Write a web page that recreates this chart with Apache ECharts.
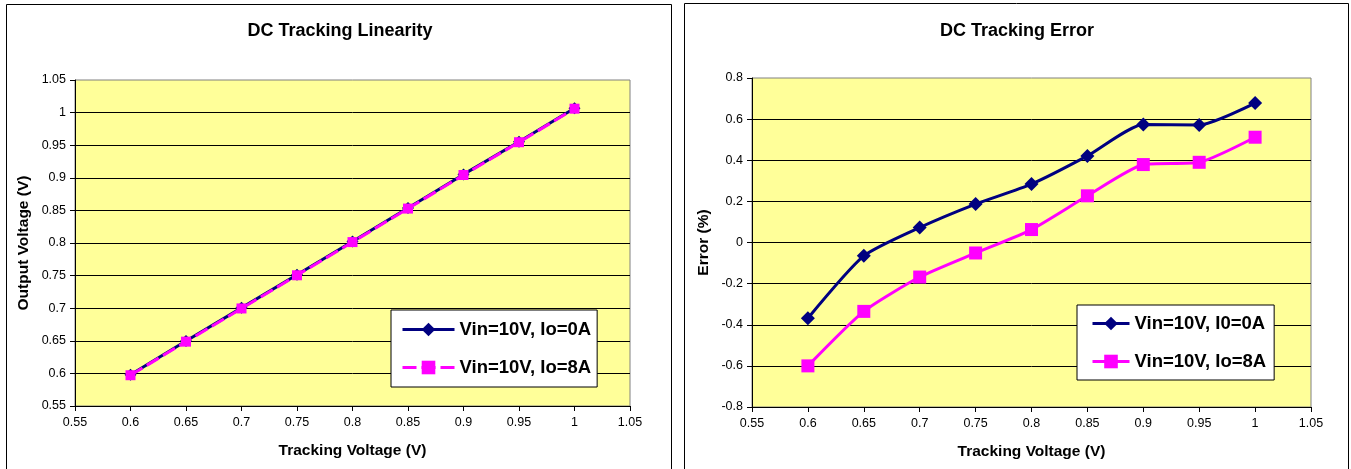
<!DOCTYPE html>
<html>
<head>
<meta charset="utf-8">
<script src="https://cdn.jsdelivr.net/npm/echarts@6/dist/echarts.min.js"></script>
<style>
html,body{margin:0;padding:0;background:#fff;}
#c1,#c2{position:absolute;left:0;top:0;width:1351px;height:469px;}
</style>
</head>
<body>
<div id="c1"></div>
<div id="c2"></div>
<script>
// ---- data ----
const trackingVoltage = [0.6, 0.65, 0.7, 0.75, 0.8, 0.85, 0.9, 0.95, 1.0];
const outIo0 = [0.598, 0.6496, 0.7005, 0.7514, 0.8023, 0.8536, 0.9052, 0.9554, 1.0068];
const outIo8 = [0.5972, 0.6487, 0.6996, 0.7505, 0.8014, 0.8528, 0.9043, 0.9546, 1.0060];
const errI00 = [-0.368, -0.065, 0.073, 0.187, 0.284, 0.421, 0.574, 0.572, 0.678];
const errIo8 = [-0.600, -0.335, -0.168, -0.051, 0.063, 0.227, 0.379, 0.390, 0.512];
const xRange = [0.55, 1.05, 0.05];
const yRangeLin = [0.55, 1.05, 0.05];
const yRangeErr = [-0.8, 0.8, 0.2];
const names = {
  linA: 'Vin=10V, Io=0A', linB: 'Vin=10V, Io=8A',
  errA: 'Vin=10V, I0=0A', errB: 'Vin=10V, Io=8A'
};

const FONT = '"Liberation Sans", Arial, sans-serif';
const pairs = (xs, ys) => xs.map((x, i) => [x, ys[i]]);

function xAxisCfg() {
  return {
    type: 'value', min: xRange[0], max: xRange[1], interval: xRange[2],
    name: 'Tracking Voltage (V)', nameLocation: 'middle', nameGap: 37,
    nameTextStyle: {fontFamily: FONT, fontSize: 15.5, fontWeight: 'bold', color: '#000'},
    axisLine: {show: true, onZero: false, lineStyle: {color: '#000', width: 1}},
    axisTick: {show: true, length: 5, lineStyle: {color: '#000'}},
    axisLabel: {fontFamily: FONT, fontSize: 12.5, color: '#000', margin: 10},
    splitLine: {show: false}
  };
}
function yAxisCfg(r, name, gap) {
  return {
    type: 'value', min: r[0], max: r[1], interval: r[2],
    name: name, nameLocation: 'middle', nameGap: gap,
    nameTextStyle: {fontFamily: FONT, fontSize: 15.5, fontWeight: 'bold', color: '#000'},
    axisLine: {show: true, onZero: false, lineStyle: {color: '#000', width: 1}},
    axisTick: {show: true, length: 5, lineStyle: {color: '#000'}},
    axisLabel: {fontFamily: FONT, fontSize: 12.5, color: '#000', margin: 9},
    splitLine: {show: true, showMinLine: false, showMaxLine: false, lineStyle: {color: '#000', width: 1}}
  };
}
function titleCfg(text, cx) {
  return {
    text: text, left: cx, top: 22, textAlign: 'center', padding: 0,
    textStyle: {fontFamily: FONT, fontSize: 18, fontWeight: 'bold', color: '#000'}
  };
}
function legendCfg(data, left, top, itemWidth, pad) {
  return {
    data: data, orient: 'vertical', left: left, top: top,
    backgroundColor: '#fff', borderColor: '#000', borderWidth: 1,
    padding: pad, itemWidth: itemWidth, itemHeight: 17, itemGap: 17,
    lineStyle: {width: 3},
    textStyle: {fontFamily: FONT, fontSize: 18.5, fontWeight: 'bold', color: '#000', lineHeight: 21}
  };
}

const c1 = echarts.init(document.getElementById('c1'));
c1.setOption({
  animation: false,
  backgroundColor: '#fff',
  title: titleCfg('DC Tracking Linearity', 340),
  grid: {left: 75, top: 80, width: 555, height: 326, show: true,
         backgroundColor: '#FFFF99', borderColor: '#808080', borderWidth: 1},
  xAxis: xAxisCfg(),
  yAxis: yAxisCfg(yRangeLin, 'Output Voltage (V)', 43),
  legend: legendCfg([names.linA, names.linB], 391, 310, 52, [9, 6, 9, 10]),
  graphic: [
    {type: 'rect', silent: true, z: 100, shape: {x: 6.5, y: 4.5, width: 665, height: 480},
     style: {fill: 'none', stroke: '#000', lineWidth: 1}},
    {type: 'rect', silent: true, z: 100, shape: {x: 684.5, y: 3.5, width: 664, height: 480},
     style: {fill: 'none', stroke: '#000', lineWidth: 1}}
  ],
  series: [
    {name: names.linA, type: 'line', data: pairs(trackingVoltage, outIo0),
     symbol: 'diamond', symbolSize: 12,
     lineStyle: {color: '#000080', width: 3}, itemStyle: {color: '#000080'}},
    {name: names.linB, type: 'line', data: pairs(trackingVoltage, outIo8),
     symbol: 'rect', symbolSize: 10,
     lineStyle: {color: '#FF00FF', width: 3, type: [14, 5]}, itemStyle: {color: '#FF00FF'}}
  ]
});

const c2 = echarts.init(document.getElementById('c2'));
c2.setOption({
  animation: false,
  title: titleCfg('DC Tracking Error', 1017),
  grid: {left: 752, top: 78, width: 559, height: 329, show: true,
         backgroundColor: '#FFFF99', borderColor: '#808080', borderWidth: 1},
  xAxis: xAxisCfg(),
  yAxis: yAxisCfg(yRangeErr, 'Error (%)', 40),
  legend: legendCfg([names.errA, names.errB], 1077, 305, 37, [8, 8, 8, 14]),
  series: [
    {name: names.errA, type: 'line', data: pairs(trackingVoltage, errI00),
     smooth: 0.2, symbol: 'diamond', symbolSize: 14,
     lineStyle: {color: '#000080', width: 3}, itemStyle: {color: '#000080'}},
    {name: names.errB, type: 'line', data: pairs(trackingVoltage, errIo8),
     smooth: 0.2, symbol: 'rect', symbolSize: 13,
     lineStyle: {color: '#FF00FF', width: 3}, itemStyle: {color: '#FF00FF'}}
  ]
});
</script>
</body>
</html>
